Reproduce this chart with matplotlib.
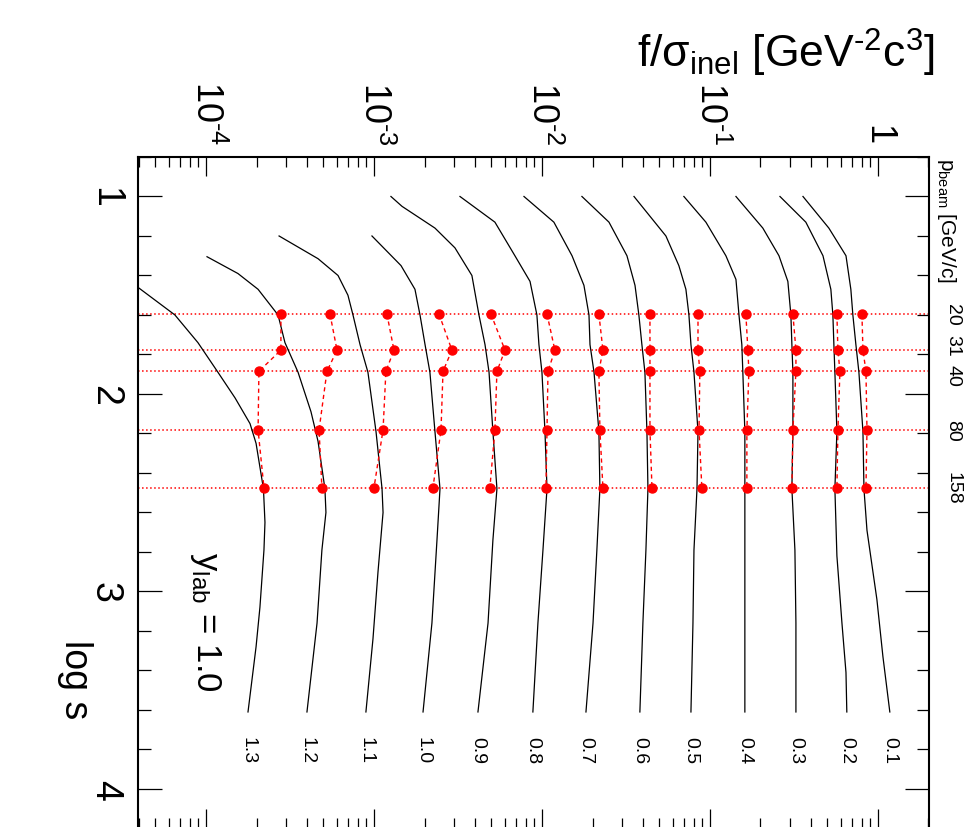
import numpy as np
import matplotlib
matplotlib.use('Agg')
import matplotlib.pyplot as plt
from matplotlib.ticker import MultipleLocator, LogLocator, NullFormatter

plt.rcParams['font.family'] = ['Liberation Sans', 'DejaVu Sans']
plt.rcParams['mathtext.fontset'] = 'custom'
plt.rcParams['mathtext.rm'] = 'Liberation Sans'
plt.rcParams['mathtext.it'] = 'Liberation Sans:italic'
plt.rcParams['mathtext.bf'] = 'Liberation Sans:bold'
plt.rcParams['mathtext.sf'] = 'Liberation Sans'
plt.rcParams['mathtext.default'] = 'regular'

HY = '\u2010'  # short hyphen for exponents, like the reference

# rapidity values of the curves
y_lab = ['0.1', '0.2', '0.3', '0.4', '0.5', '0.6', '0.7', '0.8', '0.9', '1.0', '1.1', '1.2', '1.3']

# black curves: log s and log10(f/sigma_inel), one list per y_lab
curve_logs = [
    [1.00, 1.16, 1.30, 1.47, 1.60, 1.75, 1.89, 2.19, 2.48, 2.69, 3.04, 3.33, 3.61],
    [1.00, 1.13, 1.30, 1.47, 1.60, 1.75, 1.89, 2.19, 2.48, 2.82, 3.16, 3.41, 3.61],
    [1.00, 1.16, 1.30, 1.43, 1.60, 1.75, 1.89, 2.19, 2.48, 2.79, 3.16, 3.61],
    [1.00, 1.13, 1.30, 1.42, 1.60, 1.75, 1.89, 2.19, 2.48, 3.16, 3.61],
    [1.00, 1.20, 1.35, 1.47, 1.60, 1.75, 1.89, 2.19, 2.48, 2.79, 3.16, 3.61],
    [1.00, 1.13, 1.30, 1.45, 1.60, 1.75, 1.89, 2.19, 2.48, 2.79, 3.16, 3.61],
    [1.00, 1.13, 1.30, 1.45, 1.60, 1.75, 1.89, 2.19, 2.48, 2.79, 3.16, 3.61],
    [1.00, 1.13, 1.30, 1.43, 1.60, 1.75, 1.89, 2.19, 2.48, 2.79, 3.16, 3.61],
    [1.00, 1.05, 1.16, 1.26, 1.40, 1.60, 1.75, 1.89, 2.19, 2.48, 2.74, 3.16, 3.61],
    [1.20, 1.35, 1.47, 1.60, 1.75, 1.89, 2.19, 2.48, 2.74, 3.16, 3.61],
    [1.20, 1.315, 1.40, 1.50, 1.60, 1.75, 1.89, 2.19, 2.48, 2.60, 2.90, 3.24, 3.61],
    [1.305, 1.39, 1.47, 1.60, 1.74, 1.89, 2.09, 2.24, 2.48, 2.60, 2.79, 3.16, 3.61],
    [1.46, 1.60, 1.74, 1.89, 2.02, 2.15, 2.25, 2.48, 2.65, 2.79, 3.08, 3.28, 3.61],
]
curve_logf = [
    [-0.446, -0.292, -0.190, -0.161, -0.149, -0.131, -0.113, -0.089, -0.083, -0.065, -0.006, 0.030, 0.071],
    [-0.583, -0.429, -0.327, -0.280, -0.268, -0.262, -0.256, -0.244, -0.256, -0.244, -0.214, -0.190, -0.185],
    [-0.845, -0.685, -0.589, -0.536, -0.518, -0.512, -0.506, -0.506, -0.512, -0.494, -0.488, -0.488],
    [-1.155, -1.024, -0.905, -0.845, -0.827, -0.810, -0.804, -0.792, -0.792, -0.792, -0.792],
    [-1.452, -1.262, -1.185, -1.143, -1.125, -1.113, -1.095, -1.071, -1.077, -1.095, -1.101, -1.113],
    [-1.762, -1.601, -1.494, -1.446, -1.423, -1.405, -1.387, -1.375, -1.369, -1.381, -1.399, -1.417],
    [-2.107, -1.929, -1.821, -1.750, -1.720, -1.714, -1.690, -1.661, -1.655, -1.673, -1.696, -1.738],
    [-2.488, -2.280, -2.161, -2.071, -2.030, -2.018, -2.000, -1.982, -1.970, -1.994, -2.024, -2.054],
    [-2.899, -2.833, -2.637, -2.518, -2.417, -2.375, -2.339, -2.315, -2.292, -2.268, -2.292, -2.321, -2.381],
    [-3.012, -2.839, -2.756, -2.726, -2.696, -2.667, -2.637, -2.607, -2.625, -2.655, -2.708],
    [-3.565, -3.333, -3.214, -3.155, -3.125, -3.083, -3.036, -2.988, -2.952, -2.946, -2.976, -3.006, -3.048],
    [-3.994, -3.810, -3.690, -3.571, -3.530, -3.452, -3.375, -3.333, -3.292, -3.286, -3.310, -3.339, -3.399],
    [-4.405, -4.185, -4.048, -3.929, -3.827, -3.738, -3.702, -3.658, -3.649, -3.655, -3.679, -3.702, -3.750],
]

# beam momenta and the corresponding log s
p_beam = ['20', '31', '40', '80', '158']
beam_logs = [1.595, 1.778, 1.885, 2.182, 2.475]

# red points: log10(f/sigma_inel) at each beam momentum, one list per y_lab
point_logf = [
    [-0.095, -0.089, -0.071, -0.065, -0.071],
    [-0.244, -0.238, -0.226, -0.238, -0.244],
    [-0.506, -0.488, -0.488, -0.506, -0.512],
    [-0.786, -0.774, -0.768, -0.780, -0.780],
    [-1.071, -1.071, -1.060, -1.065, -1.048],
    [-1.357, -1.357, -1.357, -1.357, -1.345],
    [-1.661, -1.637, -1.661, -1.655, -1.637],
    [-1.970, -1.923, -1.964, -1.970, -1.976],
    [-2.304, -2.220, -2.268, -2.280, -2.310],
    [-2.613, -2.536, -2.589, -2.601, -2.649],
    [-2.923, -2.881, -2.929, -2.946, -3.000],
    [-3.262, -3.220, -3.280, -3.327, -3.310],
    [-3.554, -3.554, -3.685, -3.690, -3.655],
]

f_ticks = [1e-4, 1e-3, 1e-2, 1e-1, 1]
f_ticklabels = ['10$^{%s4}$' % HY, '10$^{%s3}$' % HY, '10$^{%s2}$' % HY, '10$^{%s1}$' % HY, '1']
s_ticks = [1, 2, 3, 4]
s_ticklabels = ['1', '2', '3', '4']

fig = plt.figure(figsize=(9.71, 8.28), dpi=100)
ax = fig.add_axes([0.1421, -0.0018, 0.8146, 0.811])

# dotted lines at the beam momenta
for ls in beam_logs:
    ax.axhline(ls, color='red', ls=':', lw=1.1, zorder=1)

# model curves
for s, f in zip(curve_logs, curve_logf):
    ax.plot(10 ** np.array(f), s, color='black', lw=0.9, zorder=2)

# measured points joined by dashed lines
for f in point_logf:
    ax.plot(10 ** np.array(f), beam_logs, color='red', ls='--', dashes=(3, 2.5),
            lw=1.0, marker='o', ms=6.5, zorder=3)

# y_lab labels under the curve ends
for lab, s, f in zip(y_lab, curve_logs, curve_logf):
    ax.text(10 ** f[-1], 3.80, lab, rotation=-90, ha='center', va='center', fontsize=14)

ax.set_xscale('log')
ax.set_xlim(10 ** -4.405, 10 ** 0.304)
ax.set_ylim(4.2, 0.8)

ax.set_xticks(f_ticks)
ax.set_xticklabels(f_ticklabels, fontsize=26)
ax.xaxis.set_minor_locator(LogLocator(base=10, subs=np.arange(2, 10), numticks=20))
ax.xaxis.set_minor_formatter(NullFormatter())
ax.set_yticks(s_ticks)
ax.set_yticklabels(s_ticklabels, fontsize=27)
ax.yaxis.set_minor_locator(MultipleLocator(0.2))

ax.tick_params(axis='x', which='both', direction='in', top=True, bottom=True,
               labeltop=True, labelbottom=False, labelrotation=-90, pad=9, width=0.9)
ax.tick_params(axis='x', which='major', length=14)
ax.tick_params(axis='x', which='minor', length=7)
ax.tick_params(axis='y', which='both', direction='in', left=True, right=True,
               labelleft=True, labelrotation=-90, pad=11, width=0.9)
ax.tick_params(axis='y', which='major', length=17)
ax.tick_params(axis='y', which='minor', length=9)
for lab in ax.get_yticklabels():
    lab.set_va('center')
for sp in ax.spines.values():
    sp.set_linewidth(1.5)

# p_beam labels on the right (31 and 40 nudged apart as in the reference)
tr = ax.get_yaxis_transform()
nudge = [0.0, -0.025, 0.02, 0.0, 0.0]
for lab, ls, dy in zip(p_beam, beam_logs, nudge):
    ax.text(1.030, ls + dy, lab, transform=tr, rotation=-90, ha='center', va='center',
            fontsize=14, clip_on=False)
ax.text(1.022, 1.0, r'p$_{\rm beam}$ [GeV/c]', transform=ax.transAxes, rotation=-90,
        ha='center', va='top', fontsize=15, clip_on=False)

ax.text(0.085, 0.309, r'y$_{\rm lab}$ = 1.0', transform=ax.transAxes, rotation=-90,
        ha='center', va='center', fontsize=25)

fig.text(0.963, 0.918, 'f/$\\sigma_{\\rm inel}$ [GeV$^{%s2}$c$^{3}$]' % HY, ha='right',
         va='baseline', fontsize=32)
fig.text(75 / 971, 1 - 680 / 828, 'log s', rotation=-90, ha='center', va='center',
         fontsize=27)

fig.savefig('out.png', dpi=100)
